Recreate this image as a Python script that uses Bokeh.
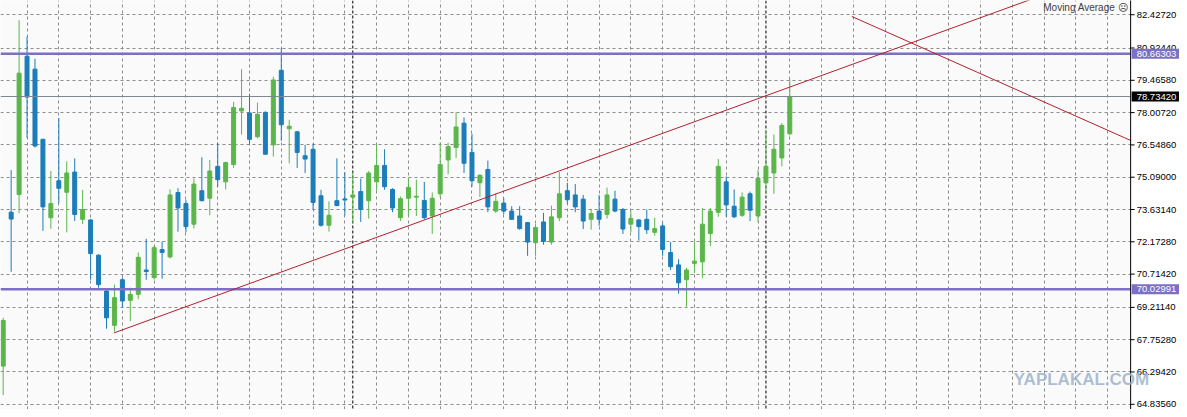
from bokeh.plotting import figure
from bokeh.models import FixedTicker, Span, Label, Grid, Range1d, ColumnDataSource
from bokeh.core.properties import value
from bokeh.embed import file_html
from bokeh.resources import INLINE
import numpy as np

# ---------------- data ----------------
opens = [66.56, 73.51, 74.31, 80.55, 79.97, 76.80, 73.26, 74.93, 74.41, 75.32,
         73.19, 73.16, 71.57, 69.95, 68.40, 70.46, 69.53, 69.80, 70.90, 70.56,
         71.82, 71.49, 74.40, 73.90, 72.97, 74.48, 74.14, 75.58, 74.88, 75.66,
         78.08, 77.99, 76.92, 78.02, 76.55, 79.92, 77.28, 77.14, 76.06, 76.35,
         74.25, 72.92, 74.03, 74.11, 74.19, 74.44, 74.03, 74.88, 75.62, 74.54,
         73.26, 74.14, 74.19, 74.04, 73.34, 74.34, 75.87, 76.43, 77.53, 76.21,
         74.84, 75.44, 73.56, 73.92, 73.56, 73.34, 73.04, 72.13, 73.07, 72.16,
         73.26, 74.48, 74.29, 74.10, 73.19, 73.56, 73.41, 74.10, 73.63, 72.97,
         73.16, 73.19, 72.60, 72.89, 71.69, 71.13, 70.46, 71.20, 71.27, 72.55,
         73.51, 74.88, 73.78, 73.37, 74.34, 73.34, 74.84, 75.28, 75.96, 77.05]

highs = [68.74, 75.41, 82.18, 81.44, 80.44, 76.83, 75.37, 77.76, 75.81, 75.94,
         74.52, 73.20, 71.61, 70.02, 70.24, 70.56, 70.10, 71.69, 72.31, 72.01,
         72.19, 74.54, 74.59, 74.07, 75.03, 75.99, 75.87, 76.65, 75.79, 78.49,
         79.97, 78.86, 78.46, 78.06, 79.63, 80.92, 77.68, 77.18, 76.55, 76.61,
         74.52, 74.00, 75.94, 75.32, 75.32, 75.03, 75.37, 76.55, 76.35, 74.59,
         74.22, 75.07, 74.98, 74.88, 74.40, 76.65, 76.65, 78.02, 77.79, 77.05,
         75.22, 75.84, 74.37, 74.14, 73.78, 73.78, 73.07, 72.97, 73.48, 73.81,
         75.32, 74.84, 74.78, 74.29, 73.66, 74.29, 74.62, 74.48, 73.70, 73.56,
         73.20, 73.63, 73.26, 73.01, 72.16, 71.39, 71.00, 72.16, 73.70, 73.70,
         75.91, 75.13, 74.54, 74.40, 74.44, 75.43, 77.19, 77.02, 77.53, 79.52]

lows = [65.25, 70.82, 73.47, 76.87, 76.43, 72.67, 72.76, 73.92, 72.60, 73.11,
        72.97, 70.46, 70.10, 68.25, 68.11, 69.21, 68.59, 69.58, 70.46, 70.46,
        70.51, 71.42, 72.63, 72.60, 72.77, 74.00, 73.37, 74.66, 74.54, 75.51,
        77.02, 76.61, 76.84, 76.11, 76.02, 76.73, 75.72, 75.51, 75.28, 73.63,
        72.86, 72.63, 73.78, 73.37, 73.04, 73.07, 73.22, 74.48, 74.52, 73.51,
        73.11, 73.34, 73.34, 73.19, 72.53, 74.19, 75.22, 75.96, 75.28, 74.66,
        74.19, 73.51, 73.48, 73.41, 73.16, 72.72, 71.54, 71.54, 72.04, 72.04,
        73.11, 73.90, 73.51, 72.75, 72.72, 72.89, 73.22, 73.51, 72.53, 72.60,
        72.23, 72.53, 72.45, 71.54, 70.90, 69.83, 69.24, 70.76, 70.54, 71.98,
        73.30, 73.30, 73.25, 73.30, 73.11, 73.07, 74.34, 74.34, 75.58, 76.98]

closes = [68.62, 73.20, 79.79, 78.71, 76.50, 73.75, 73.90, 74.59, 75.28, 73.41,
          73.63, 71.64, 70.24, 68.74, 69.65, 69.50, 69.80, 71.47, 70.83, 71.91,
          71.69, 74.29, 73.70, 72.86, 74.78, 74.03, 75.37, 74.98, 75.75, 78.24,
          78.20, 76.80, 77.93, 76.13, 79.48, 77.46, 77.39, 76.21, 75.91, 73.95,
          72.92, 73.37, 73.81, 74.06, 74.29, 73.63, 75.28, 75.62, 74.66, 73.70,
          74.12, 74.63, 74.23, 73.26, 74.14, 75.66, 76.47, 77.36, 75.72, 74.93,
          75.18, 73.75, 74.00, 73.56, 73.19, 72.77, 72.16, 72.82, 72.19, 73.30,
          74.34, 74.07, 73.75, 73.11, 73.45, 73.19, 74.29, 73.56, 72.75, 73.23,
          72.86, 72.72, 72.77, 71.83, 71.05, 70.32, 70.90, 71.30, 72.97, 73.56,
          75.58, 73.84, 73.30, 74.19, 73.60, 75.03, 75.58, 76.35, 77.43, 78.7342]

# price-scale tick values (as printed on the right scale)
y_ticks = [64.8356, 66.2942, 67.7528, 69.2114, 70.7142, 72.1728, 73.6314,
           75.0900, 76.5486, 78.0072, 79.4658, 80.9244, 82.4272]

# horizontal levels and current price
levels = [80.66303, 70.02991]
current_price = 78.7342

# period separators (bar index where a new period starts)
separators = [44, 96]

# trend lines: (bar0, price0, bar1, price1)
trend_lines = [(13.95, 68.06, 99.0, 79.16),
               (106.8, 82.35, 141.9, 76.75)]

# ---------------- styles / layout ----------------
UP = "#5BB64A"
DOWN = "#1B7DB9"
PURPLE = "#7B6FC6"
GRID = "#8C8C8C"
RED = "#B3202C"
FONT = "Liberation Sans"

X0, X_END, X_MAX = -0.34, 141.9, 148.05   # chart area ends at X_END, price scale to X_MAX
Y0, Y1 = 64.60, 83.07
PX = (X_MAX - X0) / 1179.0                  # one pixel in bar units
PY = (Y1 - Y0) / 409.0                      # one pixel in price units

n = len(opens)
idx = np.arange(n)
o = np.array(opens); c = np.array(closes)
colors = [UP if cc > oo else DOWN for oo, cc in zip(o, c)]
src = ColumnDataSource(dict(x=idx, open=o, close=c, high=highs, low=lows,
                            top=np.maximum(o, c), bottom=np.minimum(o, c),
                            color=colors))

p = figure(width=1179, height=409,
           x_range=Range1d(X0, X_MAX), y_range=Range1d(Y0, Y1),
           x_axis_location=None, y_axis_location=None,
           toolbar_location=None, output_backend="svg",
           min_border=0, background_fill_color="#FAFAFB",
           border_fill_color="white", outline_line_color=None)

p.xgrid.visible = False
p.ygrid.visible = False
p.add_layout(Grid(dimension=0, ticker=FixedTicker(ticks=list(range(3, 141, 4))),
                  grid_line_color=GRID, grid_line_dash="3 3", grid_line_width=1))
p.add_layout(Grid(dimension=1, ticker=FixedTicker(ticks=y_ticks),
                  grid_line_color=GRID, grid_line_dash="3 3", grid_line_width=1))

# period separators
for s in separators:
    p.add_layout(Span(location=s, dimension="height", line_color="black",
                      line_dash="3 2", line_width=1, level="underlay"))

# candles
p.segment(x0="x", y0="low", x1="x", y1="high", color="color", line_width=1, source=src)
p.vbar(x="x", width=0.5, top="top", bottom="bottom", fill_color="color",
       line_color="color", line_width=1, source=src)

# horizontal levels
for lv in levels:
    p.line([X0, X_END], [lv, lv], line_color=PURPLE, line_width=2.5)
p.line([X0, X_END], [current_price, current_price], line_color="#7D8790", line_width=1)

# trend lines (rays extending right)
for x0, y0, x1, y1 in trend_lines:
    slope = (y1 - y0) / (x1 - x0)
    p.line([x0, X_END], [y0, y0 + slope * (X_END - x0)], line_color=RED, line_width=1)

# ---------------- price scale ----------------
p.quad(left=X_END, right=X_MAX + 1, bottom=Y0 - 1, top=Y1 + 1,
       fill_color="white", line_color=None)
p.segment(x0=[X_END], y0=[Y0 - 1], x1=[X_END], y1=[Y1 + 1], line_color="black", line_width=1)
p.segment(x0=[X_END] * len(y_ticks), y0=y_ticks,
          x1=[X_END + 4 * PX] * len(y_ticks), y1=y_ticks, line_color="black", line_width=1)
p.text(x=[X_END + 6 * PX] * len(y_ticks), y=y_ticks,
       text=[f"{t:.5f}" for t in y_ticks], text_font=value(FONT),
       text_font_size=value("9.5px"), text_color="black",
       text_baseline="middle", text_align="left")

box_vals = [levels[0], levels[1], current_price]
box_cols = [PURPLE, PURPLE, "black"]
p.quad(left=[X_END + 1 * PX] * 3, right=[X_MAX + 1] * 3,
       bottom=[v - 5 * PY for v in box_vals], top=[v + 5 * PY for v in box_vals],
       fill_color=box_cols, line_color=None)
p.text(x=[X_END + 6 * PX] * 3, y=box_vals, text=[f"{v:.5f}" for v in box_vals],
       text_font=value(FONT), text_font_size=value("9.5px"), text_color="white",
       text_baseline="middle", text_align="left")

# indicator caption and watermark
p.add_layout(Label(x=130.9, y=82.74, text="Moving Average \u2639",
                   text_font=FONT, text_font_size="10px",
                   text_color="#404040", text_baseline="alphabetic"))
p.add_layout(Label(x=127.2, y=65.95, text="YAPLAKAL.COM",
                   text_font=FONT, text_font_style="bold",
                   text_font_size="17px", text_color="#9DB4CA", text_alpha=0.85,
                   text_baseline="middle"))

open("out.html", "w").write(file_html(p, INLINE))
